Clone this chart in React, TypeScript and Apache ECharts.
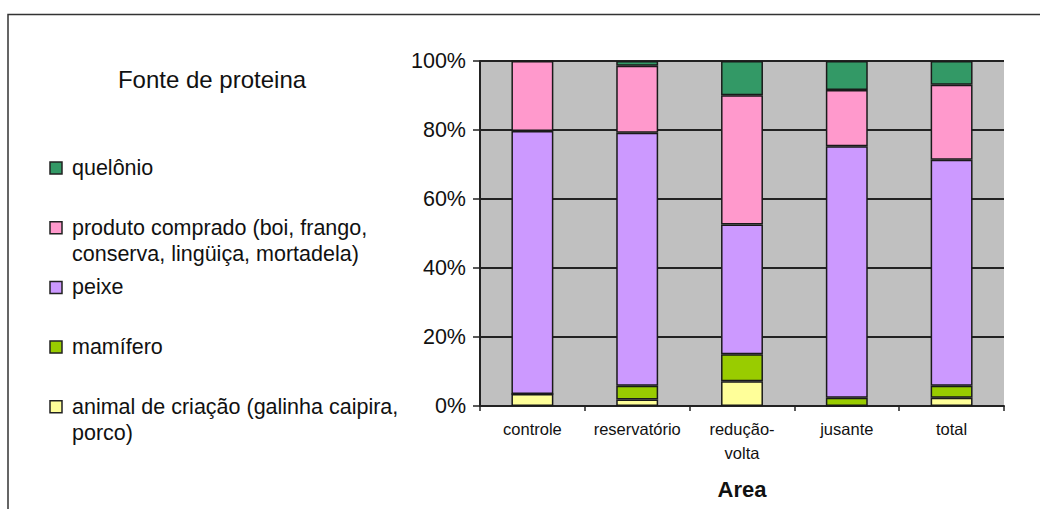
import React, { useEffect, useRef } from "react";
import * as echarts from "echarts";

// Áreas amostradas (eixo x)
const categories = ["controle", "reservatório", "redução-volta", "jusante", "total"];

// Porcentagem de cada fonte de proteína por área (empilhadas até 100%)
const animalCriacao = [3.5, 1.9, 7.2, 0, 2.4];
const mamifero = [0, 4.0, 7.8, 2.4, 3.5];
const peixe = [76.2, 73.3, 37.6, 72.9, 65.5];
const produtoComprado = [20.3, 19.4, 37.5, 16.3, 21.7];
const quelonio = [0, 1.4, 9.9, 8.4, 6.9];

// Nomes das séries, de baixo para cima na pilha
const seriesNames = [
  "animal de criação (galinha caipira, porco)",
  "mamífero",
  "peixe",
  "produto comprado (boi, frango, conserva, lingüiça, mortadela)",
  "quelônio",
];
// Texto da legenda, com as quebras de linha
const legendLabels = [
  "animal de criação (galinha caipira,\nporco)",
  "mamífero",
  "peixe",
  "produto comprado (boi, frango,\nconserva, lingüiça, mortadela)",
  "quelônio",
];
const seriesColors = ["#FFFF99", "#99CC00", "#CC99FF", "#FF99CC", "#339966"];
const seriesData = [animalCriacao, mamifero, peixe, produtoComprado, quelonio];

const yTicks = [0, 20, 40, 60, 80, 100];

const FONT = "'Liberation Sans', Arial, sans-serif";

export default function App() {
  const ref = useRef<HTMLDivElement>(null);

  useEffect(() => {
    document.body.style.margin = "0";
    if (!ref.current) return;
    const chart = echarts.init(ref.current, null, { renderer: "svg" });

    // Legenda desenhada à esquerda, de cima (quelônio) para baixo
    const legendGraphics: any[] = [];
    const order = [4, 3, 2, 1, 0];
    order.forEach((si, i) => {
      const cy = 168 + i * 59.7;
      legendGraphics.push({
        type: "rect",
        shape: { x: 50, y: cy - 6, width: 12, height: 12 },
        style: { fill: seriesColors[si], stroke: "#222", lineWidth: 1.5 },
      });
      legendGraphics.push({
        type: "text",
        x: 72,
        y: cy - 13,
        style: {
          text: legendLabels[si],
          fill: "#111",
          fontSize: 21.5,
          fontFamily: FONT,
          lineHeight: 26,
          verticalAlign: "top",
          align: "left",
        },
      });
    });

    chart.setOption({
      animation: false,
      backgroundColor: "#ffffff",
      grid: {
        left: 480,
        right: 36,
        top: 61,
        bottom: 103,
        show: true,
        backgroundColor: "#C0C0C0",
        borderWidth: 0,
      },
      graphic: [
        // moldura do gráfico
        {
          type: "polyline",
          shape: { points: [[8, 509], [8, 14.5], [1040, 14.5]] },
          style: { stroke: "#333", lineWidth: 1.5, fill: "none" },
        },
        {
          type: "text",
          x: 212,
          y: 79,
          style: {
            text: "Fonte de proteina",
            fill: "#111",
            fontSize: 24,
            fontFamily: FONT,
            align: "center",
            verticalAlign: "middle",
          },
        },
        ...legendGraphics,
      ],
      xAxis: {
        type: "category",
        data: categories,
        name: "Area",
        nameLocation: "middle",
        nameGap: 72,
        nameTextStyle: {
          fontSize: 22,
          fontWeight: "bold",
          color: "#111",
          fontFamily: FONT,
        },
        axisLine: { show: true, lineStyle: { color: "#222", width: 2 } },
        axisTick: { show: true, length: 5, lineStyle: { color: "#222", width: 1.5 } },
        axisLabel: {
          fontSize: 16.5,
          color: "#111",
          fontFamily: FONT,
          margin: 11,
          lineHeight: 24,
          interval: 0,
          formatter: (v: string) => v.replace("-", "-\n"),
        },
        splitLine: { show: false },
      },
      yAxis: {
        type: "value",
        min: yTicks[0],
        max: yTicks[yTicks.length - 1],
        interval: yTicks[1] - yTicks[0],
        axisLine: { show: true, lineStyle: { color: "#222", width: 2 } },
        axisTick: { show: true, length: 7, lineStyle: { color: "#222", width: 1.5 } },
        axisLabel: {
          fontSize: 21.5,
          color: "#111",
          fontFamily: FONT,
          margin: 14,
          formatter: "{value}%",
        },
        splitLine: { show: true, lineStyle: { color: "#222", width: 2 } },
      },
      series: seriesData.map((d, i) => ({
        name: seriesNames[i],
        type: "bar",
        stack: "total",
        barWidth: "40%",
        data: d,
        itemStyle: {
          color: seriesColors[i],
          borderColor: "#1a1a1a",
          borderWidth: 1.5,
        },
      })),
    });

    return () => chart.dispose();
  }, []);

  return <div ref={ref} style={{ width: 1040, height: 509 }} />;
}
